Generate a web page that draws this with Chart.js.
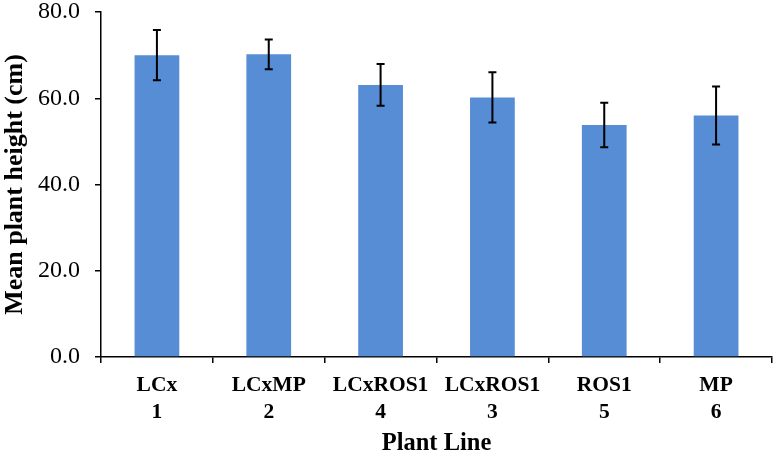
<!DOCTYPE html>
<html><head><meta charset="utf-8">
<script src="https://cdn.jsdelivr.net/npm/chart.js@4/dist/chart.umd.min.js"></script>
<style>html,body{margin:0;padding:0;background:#fff}#wrap{width:777px;height:457px}</style>
</head><body><div id="wrap"><canvas id="c"></canvas></div>
<script>
const lineNames = ['LCx','LCxMP','LCxROS1','LCxROS1','ROS1','MP'];
const lineNumbers = ['1','2','4','3','5','6'];
const meanHeights = [70.0, 70.2, 63.1, 60.2, 53.8, 56.0];
const errors = [5.8, 3.45, 4.85, 5.85, 5.15, 6.75];
const yTicks = [0, 20, 40, 60, 80];

const labels = lineNames.map((n,i)=>[n, lineNumbers[i]]);
const serif = "'Liberation Serif','Times New Roman',serif";

const errorBarPlugin = {
  id: 'errorBars',
  afterDatasetsDraw(chart) {
    const ctx = chart.ctx, meta = chart.getDatasetMeta(0), y = chart.scales.y;
    ctx.save();
    ctx.strokeStyle = '#000';
    ctx.lineWidth = 2;
    meta.data.forEach((bar, i) => {
      const v = meanHeights[i], e = errors[i];
      const yt = y.getPixelForValue(v + e), yb = y.getPixelForValue(v - e);
      const x = bar.x, w = 4;
      ctx.beginPath();
      ctx.moveTo(x, yt); ctx.lineTo(x, yb);
      ctx.moveTo(x - w, yt); ctx.lineTo(x + w, yt);
      ctx.moveTo(x - w, yb); ctx.lineTo(x + w, yb);
      ctx.stroke();
    });
    ctx.restore();
  }
};

new Chart(document.getElementById('c'), {
  type: 'bar',
  data: { labels, datasets: [{ data: meanHeights, backgroundColor: '#568dd5', borderWidth: 0,
    categoryPercentage: 1, barPercentage: 0.4 }] },
  options: {
    responsive: true, maintainAspectRatio: false, animation: false,
    layout: { padding: { top: 12, right: 5, left: 0, bottom: 0 } },
    plugins: { legend: { display: false }, tooltip: { enabled: false } },
    scales: {
      x: {
        grid: { display: true, drawOnChartArea: false, drawTicks: true, tickLength: 6, color: '#000', lineWidth: 1.5, offset: true },
        border: { color: '#000', width: 1.5 },
        ticks: { color: '#000', font: { family: serif, size: 21.5, weight: 'bold', lineHeight: 1.3 }, padding: 8, maxRotation: 0, autoSkip: false },
        title: { display: true, text: 'Plant Line', color: '#000', font: { family: serif, size: 24.5, weight: 'bold', lineHeight: 1.1 }, padding: { top: 0, bottom: 0 } },
        afterFit(s) { s.height = 100; s.paddingLeft = 0; s.paddingRight = 0; }
      },
      y: {
        min: 0, max: 80,
        afterBuildTicks(s) { s.ticks = yTicks.map(v => ({ value: v })); },
        grid: { display: true, drawOnChartArea: false, drawTicks: true, tickLength: 6, color: '#000', lineWidth: 1.5 },
        border: { color: '#000', width: 1.5 },
        ticks: { color: '#000', font: { family: serif, size: 24, lineHeight: 1.0 }, padding: 15, callback: v => Number(v).toFixed(1) },
        title: { display: true, text: 'Mean plant height (cm)', color: '#000', font: { family: serif, size: 26, weight: 'bold', lineHeight: 1.2 }, padding: { top: 0, bottom: 0 } },
        afterFit(s) { s.width = 101; s.paddingTop = 0; s.paddingBottom = 0; }
      }
    }
  },
  plugins: [errorBarPlugin]
});
</script></body></html>
